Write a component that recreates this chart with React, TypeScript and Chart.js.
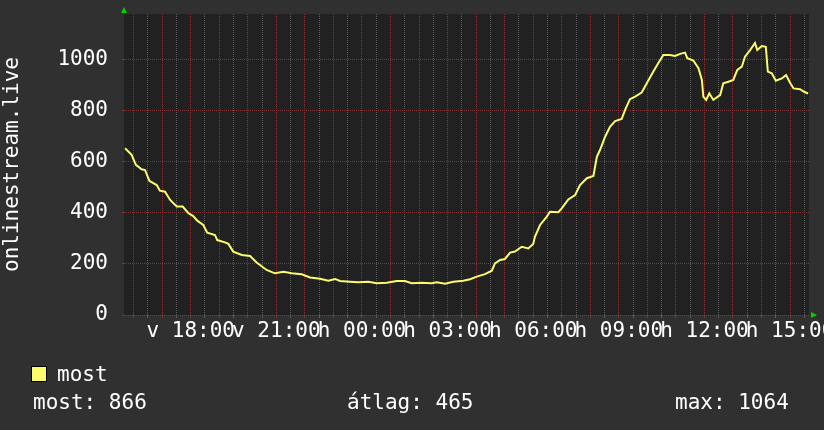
import React, { useEffect, useRef } from 'react';
import { Chart, registerables } from 'chart.js';

Chart.register(...registerables);

// time in hours since midnight of the first day (24+ = next day)
const hours = [
  15.70, 15.93, 16.08, 16.28, 16.40, 16.55, 16.81, 16.92, 17.10, 17.28,
  17.51, 17.72, 17.92, 18.09, 18.23, 18.44, 18.58, 18.85, 18.93, 19.20,
  19.32, 19.49, 19.79, 20.08, 20.31, 20.66, 20.95, 21.25, 21.54, 21.89,
  22.18, 22.53, 22.82, 23.06, 23.23, 23.58, 23.87, 24.22, 24.52, 24.87,
  25.22, 25.51, 25.74, 26.09, 26.44, 26.62, 26.91, 27.20, 27.55, 27.79,
  28.02, 28.31, 28.55, 28.66, 28.84, 29.01, 29.19, 29.36, 29.60, 29.83,
  30.00, 30.06, 30.24, 30.47, 30.59, 30.88, 31.00, 31.23, 31.47, 31.64,
  31.88, 32.11, 32.23, 32.34, 32.52, 32.69, 32.87, 33.10, 33.22, 33.39,
  33.57, 33.80, 33.98, 34.21, 34.38, 34.56, 34.79, 34.97, 35.15, 35.32,
  35.40, 35.61, 35.79, 35.91, 35.96, 36.06, 36.17, 36.31, 36.55, 36.66,
  36.84, 37.01, 37.15, 37.31, 37.42, 37.60, 37.77, 37.85, 38.01, 38.15,
  38.22, 38.36, 38.50, 38.71, 38.86, 38.98, 39.12, 39.35, 39.49, 39.63,
];

const viewers = [
  652, 626, 587, 570, 567, 525, 508, 486, 482, 450,
  424, 424, 398, 387, 369, 352, 322, 313, 293, 284,
  278, 248, 235, 231, 205, 176, 163, 169, 163, 159,
  147, 142, 134, 141, 133, 130, 128, 130, 124, 126,
  133, 133, 124, 126, 124, 128, 122, 130, 134, 140,
  150, 160, 173, 202, 215, 219, 244, 248, 267, 260,
  278, 306, 352, 384, 404, 402, 417, 452, 469, 508,
  535, 544, 619, 645, 697, 736, 758, 767, 802, 844,
  854, 870, 906, 952, 984, 1017, 1017, 1013, 1021, 1026,
  1004, 995, 965, 919, 854, 841, 867, 841, 860, 906,
  912, 919, 958, 971, 1010, 1036, 1064, 1036, 1052, 1049,
  952, 945, 916, 925, 938, 912, 886, 883, 873, 866,
];

const xGridHours = [
  16, 16.5, 17, 17.5, 18, 18.5, 19, 19.5, 20, 20.5, 21, 21.5, 22, 22.5, 23, 23.5,
  24, 24.5, 25, 25.5, 26, 26.5, 27, 27.5, 28, 28.5, 29, 29.5, 30, 30.5, 31, 31.5,
  32, 32.5, 33, 33.5, 34, 34.5, 35, 35.5, 36, 36.5, 37, 37.5, 38, 38.5, 39, 39.5,
];
const yGridValues = [0, 100, 200, 300, 400, 500, 600, 700, 800, 900, 1000, 1100];
const yLabelValues = [0, 200, 400, 600, 800, 1000];
const xLabelHours = [18, 21, 24, 27, 30, 33, 36, 39];
const dayNames = ['v', 'h'];

const X_MIN = 15.663;
const X_MAX = 39.663;
const Y_MAX = 1177;

const yTitle = 'onlinestream.live';
const seriesName = 'most';
const statTexts = ['most: 866', 'átlag: 465', 'max: 1064'];

const FONT = 'DejaVu Sans Mono';
const RED = 'rgba(125,55,55,1)';
const GRAY = 'rgba(92,92,92,1)';
const LINE = '#fbfb6c';
const DASH = [1, 1];

function xLabel(h: number): string {
  if (!xLabelHours.includes(h)) return '';
  const day = dayNames[h < 24 ? 0 : 1];
  const hh = String(h % 24).padStart(2, '0');
  return `${day} ${hh}:00`;
}

const decor = {
  id: 'decor',
  beforeDraw(chart: any) {
    const { ctx, chartArea: a, width, height } = chart;
    ctx.save();
    ctx.fillStyle = '#303030';
    ctx.fillRect(0, 0, width, height);
    ctx.fillStyle = '#212121';
    ctx.fillRect(a.left, a.top, a.right - a.left, a.bottom - a.top);
    ctx.restore();
  },
  afterDraw(chart: any) {
    const { ctx, chartArea: a } = chart;
    ctx.save();
    // arrows
    ctx.fillStyle = '#00d000';
    ctx.beginPath();
    ctx.moveTo(a.left - 3, a.top - 1);
    ctx.lineTo(a.left + 3, a.top - 1);
    ctx.lineTo(a.left, a.top - 7);
    ctx.closePath();
    ctx.fill();
    ctx.beginPath();
    ctx.moveTo(a.right + 2, a.bottom - 3);
    ctx.lineTo(a.right + 2, a.bottom + 3);
    ctx.lineTo(a.right + 8, a.bottom);
    ctx.closePath();
    ctx.fill();
    // legend
    ctx.fillStyle = LINE;
    ctx.fillRect(31.5, 366.5, 15, 15);
    ctx.strokeStyle = '#000';
    ctx.lineWidth = 1;
    ctx.strokeRect(31.5, 366.5, 15, 15);
    ctx.fillStyle = '#ffffff';
    ctx.font = `21px "${FONT}"`;
    ctx.textBaseline = 'alphabetic';
    ctx.textAlign = 'left';
    ctx.fillText(seriesName, 57, 381);
    const xs = [33, 347, 675];
    statTexts.forEach((t, i) => ctx.fillText(t, xs[i], 409));
    ctx.restore();
  },
};

export default function App() {
  const ref = useRef<HTMLCanvasElement | null>(null);

  useEffect(() => {
    document.body.style.margin = '0';
    const canvas = ref.current;
    if (!canvas) return;
    const chart = new Chart(canvas, {
      type: 'line',
      data: {
        datasets: [
          {
            label: seriesName,
            data: hours.map((h, i) => ({ x: h, y: viewers[i] })),
            borderColor: LINE,
            borderWidth: 2,
            pointRadius: 0,
            tension: 0,
            fill: false,
          },
        ],
      },
      options: {
        animation: false,
        responsive: false,
        maintainAspectRatio: false,
        devicePixelRatio: 1,
        layout: { padding: { left: 0, right: 15, top: 14, bottom: 75 } },
        plugins: { legend: { display: false }, tooltip: { enabled: false } },
        scales: {
          x: {
            type: 'linear',
            min: X_MIN,
            max: X_MAX,
            afterBuildTicks: (s: any) => {
              s.ticks = xGridHours.map((v) => ({ value: v }));
            },
            afterFit: (s: any) => {
              s.height = 40;
              s.paddingLeft = 0;
              s.paddingRight = 0;
            },
            border: { display: false, dash: DASH },
            grid: {
              color: (c: any) => (c.tick && Number.isInteger(c.tick.value) ? RED : GRAY),
              tickColor: (c: any) => (c.tick && Number.isInteger(c.tick.value) ? RED : GRAY),
              borderDash: DASH,
              lineWidth: 1,
              tickLength: 3,
              drawTicks: true,
            },
            ticks: {
              autoSkip: false,
              maxRotation: 0,
              minRotation: 0,
              includeBounds: false,
              padding: 1,
              color: '#ffffff',
              font: { family: FONT, size: 21 },
              callback: (v: any) => xLabel(Number(v)),
            },
          },
          y: {
            type: 'linear',
            min: 0,
            max: Y_MAX,
            afterBuildTicks: (s: any) => {
              s.ticks = yGridValues.map((v) => ({ value: v }));
            },
            afterFit: (s: any) => {
              s.width = 124;
              s.paddingTop = 0;
              s.paddingBottom = 0;
            },
            border: { display: false, dash: DASH },
            grid: {
              color: (c: any) => (c.tick && c.tick.value % 200 === 0 ? RED : GRAY),
              tickColor: (c: any) => (c.tick && c.tick.value % 200 === 0 ? RED : GRAY),
              borderDash: DASH,
              lineWidth: 1,
              tickLength: 2,
            },
            ticks: {
              includeBounds: false,
              padding: 14,
              color: '#ffffff',
              font: { family: FONT, size: 21 },
              callback: (v: any) => (yLabelValues.includes(Number(v)) ? String(v) : ''),
            },
            title: {
              display: true,
              text: yTitle,
              color: '#ffffff',
              font: { family: FONT, size: 21 },
              padding: { top: 0, bottom: 0 },
            },
          },
        },
      },
      plugins: [decor],
    } as any);
    return () => chart.destroy();
  }, []);

  return (
    <div style={{ width: 824, height: 430, background: '#303030' }}>
      <canvas ref={ref} width={824} height={430} style={{ display: 'block' }} />
    </div>
  );
}
